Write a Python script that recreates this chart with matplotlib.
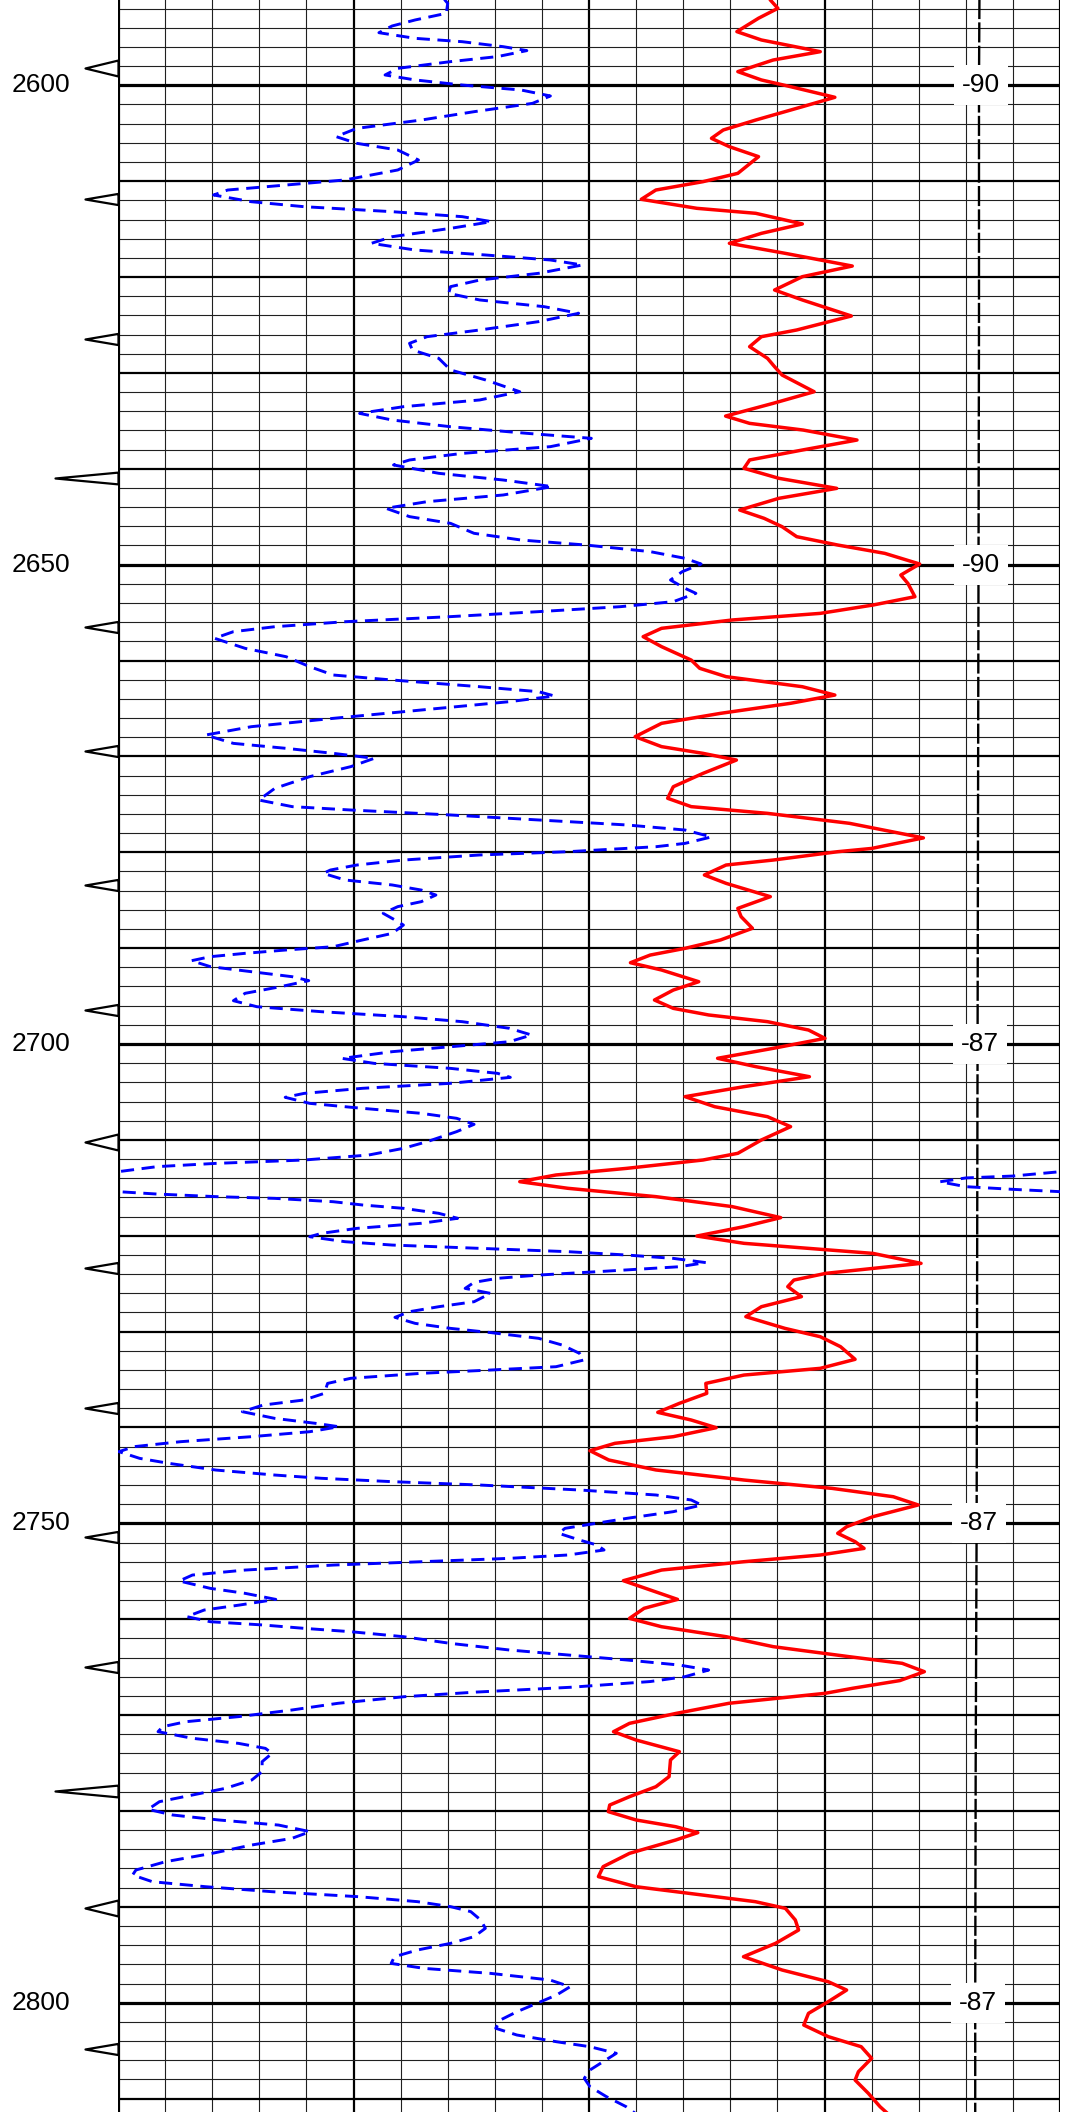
import matplotlib
matplotlib.use("Agg")
import numpy as np
import matplotlib.pyplot as plt

# depth labels on the left and curve value labels on the right
depth_labels = [2600, 2650, 2700, 2750, 2800]
sp_labels = ["-90", "-90", "-87", "-87", "-87"]

# red curve, track in grid units (0..20 across)
red_depth = [2590.6, 2591.1, 2591.97, 2593.0, 2594.4, 2595.27, 2596.49, 2597.36, 2598.57, 2599.44,
             2600.14, 2601.25, 2602.23, 2603.62, 2604.66, 2605.53, 2606.4, 2607.44, 2609.18, 2610.05,
             2610.92, 2611.89, 2612.83, 2613.35, 2614.46, 2615.44, 2616.48, 2617.52, 2618.85, 2619.96,
             2621.35, 2622.39, 2624.06, 2625.52, 2626.22, 2627.26, 2628.48, 2629.35, 2630.22, 2631.96,
             2633.17, 2634.5, 2635.26, 2635.96, 2637.0, 2638.04, 2639.08, 2639.95, 2640.99, 2642.04,
             2643.08, 2644.3, 2645.17, 2646.04, 2647.08, 2647.95, 2648.82, 2649.93, 2651.08, 2651.95,
             2653.34, 2654.21, 2655.08, 2655.77, 2656.64, 2657.51, 2658.55, 2659.95, 2660.81, 2661.68,
             2662.73, 2663.6, 2664.46, 2665.51, 2666.55, 2667.94, 2668.98, 2669.68, 2670.38, 2671.77,
             2673.16, 2674.37, 2675.24, 2675.94, 2676.98, 2678.5, 2679.6, 2679.94, 2680.81, 2681.33,
             2682.37, 2683.24, 2684.63, 2685.85, 2686.72, 2687.93, 2689.15, 2690.02, 2690.72, 2691.52,
             2692.28, 2693.5, 2694.37, 2695.41, 2696.28, 2696.97, 2697.67, 2698.54, 2699.41, 2700.45,
             2701.49, 2702.36, 2703.41, 2704.45, 2705.49, 2706.54, 2707.58, 2708.62, 2710.01, 2711.4,
             2712.1, 2712.97, 2713.66, 2714.36, 2715.05, 2715.92, 2716.96, 2718.11, 2719.05, 2720.03,
             2720.79, 2721.84, 2722.88, 2723.92, 2724.62, 2725.31, 2726.35, 2727.4, 2728.44, 2729.66,
             2730.53, 2731.57, 2732.89, 2733.83, 2734.53, 2735.4, 2736.44, 2737.48, 2738.42, 2739.22,
             2740.02, 2740.96, 2741.65, 2742.42, 2743.39, 2744.43, 2745.48, 2746.35, 2747.22, 2748.08,
             2749.3, 2750.35, 2751.04, 2751.91, 2752.61, 2753.3, 2754.0, 2754.87, 2755.98, 2756.95,
             2757.93, 2758.86, 2759.91, 2760.78, 2761.82, 2762.86, 2763.91, 2764.6, 2765.47, 2766.4,
             2767.2, 2767.73, 2768.77, 2769.82, 2770.86, 2771.73, 2772.6, 2773.82, 2774.68, 2776.42,
             2777.47, 2778.51, 2779.38, 2780.07, 2780.94, 2781.64, 2782.26, 2783.03, 2784.42, 2785.81,
             2786.85, 2787.9, 2788.77, 2789.46, 2790.16, 2791.37, 2792.42, 2793.81, 2795.2, 2796.59,
             2797.81, 2798.68, 2799.89, 2801.11, 2802.33, 2803.54, 2804.59, 2805.8, 2807.2, 2808.07,
             2809.45, 2810.85, 2811.6]
red_val = [13.8, 13.85, 14.01, 13.6, 13.14, 13.66, 14.91, 13.91, 13.16, 13.66,
           14.28, 15.22, 14.53, 13.54, 12.85, 12.6, 12.98, 13.6, 13.16, 12.42,
           11.42, 11.11, 12.29, 13.54, 14.53, 13.66, 12.98, 14.16, 15.59, 14.53,
           13.94, 14.53, 15.57, 14.41, 13.66, 13.41, 13.79, 13.94, 14.1, 14.78,
           13.91, 12.9, 13.41, 14.55, 15.69, 14.53, 13.41, 13.29, 14.03, 15.26,
           14.03, 13.2, 13.72, 14.1, 14.41, 15.28, 16.28, 17.02, 16.62, 16.77,
           16.92, 16.03, 14.91, 13.04, 11.54, 11.15, 11.54, 12.17, 12.35, 12.91,
           14.53, 15.22, 14.28, 12.79, 11.54, 10.98, 11.54, 12.42, 13.13, 12.42,
           11.79, 11.67, 12.17, 13.79, 15.53, 17.1, 16.0, 15.28, 13.91, 12.91,
           12.45, 12.91, 13.85, 13.16, 13.23, 13.47, 12.79, 12.04, 11.3, 10.88,
           11.54, 12.33, 11.79, 11.39, 11.79, 12.54, 13.79, 14.66, 15.01, 13.91,
           12.73, 13.54, 14.68, 13.29, 12.04, 12.67, 13.79, 14.28, 13.66, 13.16,
           12.42, 10.8, 9.3, 8.53, 9.55, 11.42, 13.04, 14.07, 13.29, 12.29,
           13.29, 16.03, 17.05, 15.03, 14.35, 14.22, 14.51, 13.66, 13.33, 14.16,
           14.91, 15.34, 15.65, 14.91, 13.29, 12.48, 12.5, 11.92, 11.46, 12.17,
           12.7, 11.79, 10.55, 10.02, 10.42, 11.42, 13.29, 15.16, 16.46, 16.99,
           16.03, 15.47, 15.28, 15.65, 15.84, 14.91, 13.29, 11.54, 10.73, 11.3,
           11.88, 11.17, 10.86, 11.54, 12.91, 13.91, 15.53, 16.65, 17.12, 16.6,
           15.6, 15.01, 12.97, 11.85, 10.86, 10.52, 11.0, 11.92, 11.73, 11.7,
           11.42, 10.86, 10.44, 10.41, 11.0, 11.84, 12.31, 11.84, 10.86, 10.3,
           10.2, 11.0, 12.41, 13.53, 14.17, 14.38, 14.45, 13.96, 13.28, 14.1,
           15.08, 15.47, 15.08, 14.66, 14.56, 15.08, 15.78, 16.0, 15.72, 15.65,
           15.93, 16.18, 16.35]

# blue dashed curve (wraps round to the right side when below 0)
blue_depth = [2590.6, 2591.1, 2591.45, 2592.49, 2593.18, 2593.81, 2594.51, 2595.1, 2595.45, 2595.97,
              2596.38, 2597.0, 2597.53, 2598.23, 2598.92, 2599.44, 2599.97, 2600.49, 2601.11, 2601.88,
              2602.75, 2603.62, 2604.49, 2605.35, 2606.05, 2606.75, 2607.79, 2608.83, 2609.87, 2610.4,
              2610.92, 2611.44, 2612.14, 2612.66, 2613.18, 2613.7, 2614.22, 2614.92, 2615.79, 2616.48,
              2617.18, 2617.7, 2618.22, 2618.74, 2619.61, 2620.31, 2621.0, 2621.7, 2622.39, 2623.09,
              2623.78, 2624.65, 2625.52, 2626.22, 2626.91, 2627.61, 2628.48, 2629.69, 2630.74, 2631.96,
              2632.82, 2633.52, 2634.22, 2634.91, 2635.61, 2636.3, 2636.82, 2637.69, 2638.39, 2639.08,
              2639.6, 2640.47, 2641.17, 2641.86, 2642.73, 2643.43, 2644.12, 2644.99, 2645.69, 2646.73,
              2647.43, 2647.95, 2648.64, 2649.34, 2649.93, 2650.73, 2651.6, 2652.47, 2652.99, 2653.86,
              2654.38, 2654.9, 2655.42, 2655.95, 2656.47, 2656.99, 2657.68, 2658.73, 2659.6, 2660.64,
              2661.51, 2662.03, 2662.73, 2663.25, 2663.7, 2664.29, 2665.16, 2666.03, 2666.9, 2667.77,
              2668.64, 2669.16, 2669.68, 2670.2, 2671.07, 2672.11, 2673.33, 2674.55, 2675.24, 2675.59,
              2676.11, 2676.63, 2677.15, 2677.68, 2678.4, 2679.07, 2679.42, 2679.94, 2680.28, 2680.81,
              2681.33, 2681.85, 2682.2, 2682.89, 2683.41, 2683.94, 2684.46, 2685.15, 2685.67, 2686.37,
              2687.06, 2687.59, 2688.46, 2689.15, 2689.85, 2690.19, 2690.54, 2690.89, 2691.31, 2691.93,
              2692.45, 2692.98, 2693.39, 2694.02, 2694.71, 2695.48, 2696.11, 2696.63, 2697.15, 2697.67,
              2698.36, 2699.06, 2699.76, 2700.28, 2700.8, 2701.5, 2702.02, 2702.54, 2703.06, 2703.48,
              2704.1, 2704.62, 2705.15, 2705.56, 2706.19, 2706.71, 2707.23, 2707.75, 2708.38, 2709.14,
              2710.19, 2710.88, 2711.58, 2712.1, 2712.45, 2712.79, 2713.32, 2713.77, 2713.97, 2714.37,
              2714.88, 2715.16, 2715.4, 2715.65, 2715.92, 2716.1, 2716.45, 2716.79, 2717.14, 2717.66,
              2718.18, 2718.7, 2719.23, 2719.75, 2720.1, 2720.62, 2720.97, 2721.31, 2721.66, 2722.01,
              2722.36, 2722.8, 2723.23, 2723.75, 2724.1, 2724.44, 2724.86, 2725.49, 2726.01, 2726.88,
              2727.4, 2727.92, 2728.51, 2729.14, 2729.66, 2730.11, 2730.7, 2731.4, 2732.27, 2732.96,
              2733.66, 2734.0, 2734.35, 2734.87, 2735.4, 2736.44, 2737.13, 2737.66, 2738.35, 2739.05,
              2739.57, 2739.92, 2740.44, 2740.96, 2741.48, 2742.0, 2742.52, 2743.22, 2743.74, 2744.44,
              2744.96, 2745.3, 2745.65, 2746.0, 2746.52, 2747.04, 2747.56, 2748.09, 2748.78, 2749.48,
              2750.17, 2750.52, 2751.04, 2751.74, 2752.26, 2752.78, 2753.3, 2753.65, 2754.0, 2754.35,
              2754.87, 2755.39, 2756.01, 2756.78, 2757.3, 2757.93, 2758.52, 2759.04, 2759.73, 2760.26,
              2760.6, 2760.95, 2761.3, 2761.82, 2762.52, 2763.21, 2763.73, 2764.25, 2764.78, 2765.3,
              2765.99, 2766.5, 2767.1, 2767.6, 2768.08, 2768.77, 2769.47, 2770.16, 2770.69, 2771.21,
              2771.73, 2772.42, 2772.95, 2773.47, 2773.99, 2774.86, 2775.9, 2776.77, 2777.64, 2778.34,
              2779.03, 2779.83, 2780.42, 2780.94, 2781.47, 2782.16, 2782.86, 2783.55, 2784.42, 2785.29,
              2786.16, 2786.68, 2787.38, 2787.9, 2788.42, 2788.94, 2789.46, 2789.98, 2790.5, 2791.37,
              2792.24, 2793.11, 2793.81, 2794.5, 2795.2, 2795.9, 2796.42, 2796.94, 2797.63, 2798.33,
              2799.2, 2800.07, 2800.94, 2801.8, 2802.67, 2803.37, 2804.07, 2804.59, 2805.28, 2806.15,
              2807.02, 2807.89, 2808.76, 2809.8, 2810.85, 2811.6]
blue_val = [6.9, 6.94, 7.0, 6.97, 6.31, 5.82, 5.54, 6.31, 7.31, 8.18,
            8.68, 8.06, 7.06, 5.94, 5.67, 6.31, 7.31, 8.56, 9.18, 8.8,
            7.56, 6.44, 5.07, 4.63, 5.07, 5.94, 6.38, 5.94, 4.82, 3.57,
            2.33, 2.03, 2.83, 3.95, 5.82, 7.31, 7.93, 7.06, 5.82, 5.38,
            6.31, 7.81, 9.18, 9.86, 8.93, 7.68, 7.06, 7.02, 7.68, 9.05,
            9.78, 8.93, 7.68, 6.56, 6.19, 6.25, 6.81, 7.06, 7.81, 8.53,
            7.68, 6.06, 5.13, 5.82, 7.06, 8.68, 10.05, 9.18, 7.31, 6.19,
            5.85, 6.81, 8.18, 9.22, 8.18, 6.56, 5.69, 6.19, 7.06, 7.56,
            8.56, 9.93, 11.3, 12.04, 12.38, 11.98, 11.73, 12.04, 12.27, 11.79,
            10.67, 8.93, 7.06, 4.82, 3.33, 2.45, 2.05, 2.7, 3.57, 4.07,
            4.57, 5.82, 7.68, 8.93, 9.27, 8.31, 6.44, 4.57, 2.83, 1.86,
            2.45, 3.57, 4.57, 5.44, 4.94, 4.07, 3.33, 2.99, 3.7, 4.94,
            7.06, 8.93, 10.8, 12.04, 12.6, 12.04, 11.42, 9.55, 7.68, 6.06,
            5.07, 4.51, 4.36, 4.82, 5.82, 6.44, 6.75, 6.44, 5.94, 5.63,
            5.88, 6.06, 5.82, 5.19, 4.57, 3.57, 2.7, 1.96, 1.56, 1.96,
            2.83, 3.7, 4.05, 3.45, 2.7, 2.45, 2.95, 4.32, 6.06, 7.31,
            8.31, 8.78, 8.31, 7.06, 5.82, 4.76, 5.44, 7.06, 8.06, 8.33,
            7.06, 5.19, 3.95, 3.55, 4.07, 5.19, 6.44, 7.19, 7.56, 7.19,
            6.56, 6.06, 5.32, 3.95, 2.08, 0.83, 0.0, -1.0, -2.0, -2.55,
            -2.0, -1.0, 0.0, 0.83, 2.08, 3.33, 4.57, 5.19, 6.06, 6.81,
            7.21, 6.44, 5.07, 4.32, 4.07, 4.82, 5.82, 7.68, 9.55, 10.8,
            11.79, 12.48, 11.92, 10.17, 8.93, 8.06, 7.56, 7.37, 7.91, 7.56,
            6.81, 6.19, 5.88, 6.31, 7.06, 7.93, 8.93, 9.43, 9.8, 9.89,
            9.3, 7.93, 6.44, 4.94, 4.45, 4.38, 3.95, 3.08, 2.64, 3.33,
            4.2, 4.69, 4.07, 2.83, 1.33, 0.34, 0.02, 0.46, 1.08, 2.08,
            3.33, 4.32, 5.82, 7.68, 9.8, 11.42, 12.17, 12.39, 11.79, 10.8,
            9.93, 9.49, 9.36, 9.8, 10.17, 10.32, 9.55, 8.31, 6.44, 4.57,
            2.7, 1.58, 1.3, 1.96, 2.7, 3.35, 2.58, 1.83, 1.46, 1.96,
            3.08, 3.95, 4.94, 6.06, 7.06, 8.31, 9.55, 10.8, 11.92, 12.54,
            12.04, 11.3, 9.6, 7.6, 6.08, 4.67, 3.69, 2.56, 1.44, 0.95,
            0.85, 1.58, 2.56, 3.13, 3.27, 3.06, 3.06, 2.84, 2.28, 1.58,
            0.88, 0.64, 1.16, 2.14, 3.41, 4.08, 3.69, 2.84, 2.0, 1.01,
            0.38, 0.31, 0.73, 1.86, 3.27, 5.1, 6.36, 7.06, 7.49, 7.7,
            7.8, 7.56, 7.06, 6.36, 5.87, 5.8, 6.5, 7.91, 9.17, 9.6,
            9.31, 8.89, 8.47, 8.12, 8.02, 8.47, 9.31, 10.02, 10.58, 10.3,
            10.02, 9.9, 10.02, 10.37, 10.79, 11.0]

# black dashed curve near the right edge
sp_depth = [2590.5, 2600, 2625, 2650, 2675, 2700, 2725, 2750, 2775, 2800, 2812]
sp_val = [18.29, 18.28, 18.28, 18.27, 18.26, 18.25, 18.24, 18.23, 18.21, 18.2, 18.2]

# triangle flags on the depth track: 0 = short, 1 = long, 2 = wide
marker_depth = [2598.23, 2611.86, 2626.46, 2640.99, 2656.47, 2669.41, 2683.41, 2696.45,
                2710.19, 2723.40, 2737.94, 2751.39, 2764.95, 2777.92, 2790.16, 2804.86]
marker_kind = [2, 0, 0, 1, 0, 0, 0, 0, 2, 0, 0, 0, 0, 1, 2, 0]

plt.rcParams['font.family'] = ['Liberation Sans', 'DejaVu Sans']

fig = plt.figure(figsize=(10.76, 21.12), dpi=100)
ax = fig.add_axes([118 / 1076, 0, 942 / 1076, 1])
ax.set_xlim(0, 20)
ax.set_ylim(2811.4, 2591.1)
ax.set_axis_off()

# grid
for i in range(0, 21):
    if i in (0, 20):
        ax.axvline(i, color='black', lw=2.3, zorder=2)
    elif i % 5 == 0:
        ax.axvline(i, color='black', lw=1.6, zorder=1)
    else:
        ax.axvline(i, color='#202020', lw=0.8, zorder=1)
for d in range(2592, 2812, 2):
    if d % 50 == 0:
        ax.axhline(d, color='black', lw=2.3, zorder=1)
    elif d % 10 == 0:
        ax.axhline(d, color='black', lw=1.6, zorder=1)
    else:
        ax.axhline(d, color='#202020', lw=0.8, zorder=1)

# curves
blue = np.array(blue_val)
for shift in (0, 20):
    ax.plot(blue + shift, blue_depth, color='#0000ff', lw=2.1, dashes=(4.5, 2.6), zorder=3)
ax.plot(red_val, red_depth, color='#ff0000', lw=2.5, solid_joinstyle='round', zorder=3)
ax.plot(sp_val, sp_depth, color='black', lw=1.7, dashes=(8.5, 1.4), zorder=2)

# triangle flags
shapes = {0: (33, 5.6), 1: (63, 5.9), 2: (33, 8.0)}
for kind, (length, half) in shapes.items():
    verts = [(0, half), (-length, 0), (0, -half), (0, half)]
    ds = [d for d, k in zip(marker_depth, marker_kind) if k == kind]
    ax.plot(np.zeros(len(ds)), ds, linestyle='none', marker=verts,
            markersize=2 * length * 0.72, mfc='white', mec='black', mew=1.6,
            clip_on=False, zorder=4)

# labels
for d in depth_labels:
    ax.text(-106 / 942, d, str(d), transform=ax.get_yaxis_transform(),
            ha='left', va='center', fontsize=19, clip_on=False)
for d, s in zip(depth_labels, sp_labels):
    ax.text(np.interp(d, sp_depth, sp_val) + 0.05, d, s, ha='center', va='center',
            fontsize=19, zorder=5,
            bbox=dict(boxstyle='square,pad=0.3', fc='white', ec='none'))

fig.savefig('out.png', dpi=100)
